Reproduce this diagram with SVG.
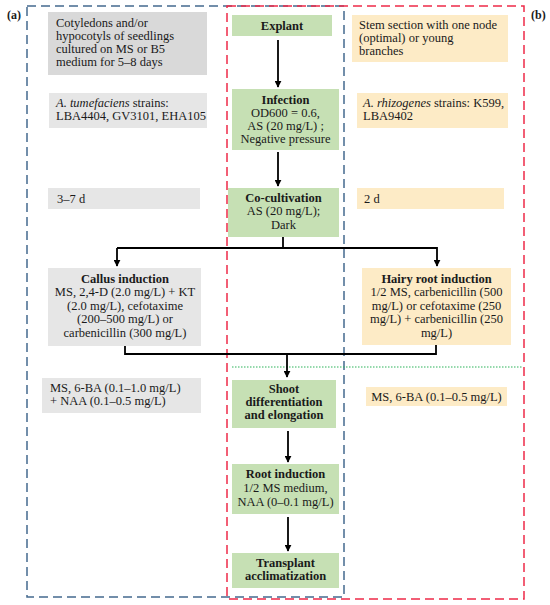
<svg xmlns="http://www.w3.org/2000/svg" width="550" height="605" viewBox="0 0 550 605">
<defs>
<marker id="ah" viewBox="0 0 10 10" refX="9" refY="5" markerWidth="7" markerHeight="7" markerUnits="userSpaceOnUse" orient="auto"><path d="M0,0 L10,5 L0,10 z" fill="#000"/></marker>
<style>
text{font-family:"Liberation Serif","Times New Roman",serif;font-size:12.5px;fill:#1a1a1a}
.b{font-weight:bold}
.c{text-anchor:middle}
.g1{fill:#d9d9d9}
.g{fill:#e6e6e6}
.gr{fill:#c6e0b4}
.y{fill:#fdebc6}
.ln{fill:none;stroke:#000;stroke-width:1.8}
.lab{font-weight:bold;font-size:12px}
</style>
</defs>
<rect x="27" y="6" width="317" height="591" fill="none" stroke="#44698f" stroke-width="1.5" stroke-dasharray="9,5"/>
<rect x="227" y="6" width="297" height="593" fill="none" stroke="#ee2a48" stroke-width="1.5" stroke-dasharray="9,5"/>
<line x1="232" y1="367" x2="523" y2="367" stroke="#2cb45a" stroke-width="1.2" stroke-dasharray="1.5,1.5"/>
<text class="lab" x="7" y="19">(a)</text>
<text class="lab" x="531" y="19">(b)</text>

<g id="n-cotyledons"><rect class="g1" x="48" y="12" width="159" height="63"/>
<text x="56" y="27">Cotyledons and/or</text><text x="56" y="40">hypocotyls of seedlings</text><text x="56" y="53">cultured on MS or B5</text><text x="56" y="66">medium for 5–8 days</text></g>
<g id="n-tumefaciens"><rect class="g" x="49" y="93" width="158" height="35"/>
<text x="56" y="107"><tspan font-style="italic">A. tumefaciens</tspan> strains:</text><text x="56" y="120">LBA4404, GV3101, EHA105</text></g>
<g id="n-37d"><rect class="g" x="48" y="188" width="152" height="21"/><text x="57" y="203">3–7 d</text></g>
<g id="n-callus"><rect class="g" x="48" y="268" width="153" height="78"/>
<text class="c b" x="125" y="283">Callus induction</text><text class="c" x="125" y="296">MS, 2,4-D (2.0 mg/L) + KT</text><text class="c" x="125" y="310">(2.0 mg/L), cefotaxime</text><text class="c" x="125" y="323">(200–500 mg/L) or</text><text class="c" x="125" y="337">carbenicillin (300 mg/L)</text></g>
<g id="n-ms6ba-a"><rect class="g" x="42" y="378" width="159" height="35"/>
<text x="50" y="392">MS, 6-BA (0.1–1.0 mg/L)</text><text x="50" y="405">+ NAA (0.1–0.5 mg/L)</text></g>

<g id="n-explant"><rect class="gr" x="232" y="15" width="100" height="21"/><text class="c b" x="282" y="30">Explant</text></g>
<g id="n-infection"><rect class="gr" x="232" y="89" width="107" height="61"/>
<text class="c b" x="285.5" y="104">Infection</text><text class="c" x="285.5" y="117">OD600 = 0.6,</text><text class="c" x="285.5" y="130">AS (20 mg/L) ;</text><text class="c" x="285.5" y="143">Negative pressure</text></g>
<g id="n-cocult"><rect class="gr" x="228" y="188" width="111" height="49"/>
<text class="c b" x="283.5" y="202">Co-cultivation</text><text class="c" x="283.5" y="215">AS (20 mg/L);</text><text class="c" x="283.5" y="229">Dark</text></g>
<g id="n-shoot"><rect class="gr" x="232" y="380" width="104" height="48"/>
<text class="c b" x="284" y="393">Shoot</text><text class="c b" x="284" y="406">differentiation</text><text class="c b" x="284" y="419">and elongation</text></g>
<g id="n-root"><rect class="gr" x="232" y="464" width="107" height="50"/>
<text class="c b" x="285.5" y="478">Root induction</text><text class="c" x="285.5" y="492">1/2 MS medium,</text><text class="c" x="285.5" y="506">NAA (0–0.1 mg/L)</text></g>
<g id="n-transplant"><rect class="gr" x="232" y="553" width="107" height="35"/>
<text class="c b" x="285.5" y="567">Transplant</text><text class="c b" x="285.5" y="580">acclimatization</text></g>

<g id="n-stem"><rect class="y" x="352" y="15" width="156" height="47"/>
<text x="359" y="29">Stem section with one node</text><text x="359" y="42">(optimal) or young</text><text x="359" y="55">branches</text></g>
<g id="n-rhizogenes"><rect class="y" x="357" y="93" width="151" height="35"/>
<text x="363" y="107"><tspan font-style="italic">A. rhizogenes</tspan> strains: K599,</text><text x="363" y="120">LBA9402</text></g>
<g id="n-2d"><rect class="y" x="357" y="188" width="147" height="21"/><text x="364" y="203">2 d</text></g>
<g id="n-hairy"><rect class="y" x="362" y="268" width="149" height="77"/>
<text class="c b" x="436.5" y="283">Hairy root induction</text><text class="c" x="436.5" y="296">1/2 MS, carbenicillin (500</text><text class="c" x="436.5" y="310">mg/L) or cefotaxime (250</text><text class="c" x="436.5" y="323">mg/L) + carbenicillin (250</text><text class="c" x="436.5" y="337">mg/L)</text></g>
<g id="n-ms6ba-b"><rect class="y" x="366" y="387" width="141" height="19"/><text class="c" x="436.5" y="401">MS, 6-BA (0.1–0.5 mg/L)</text></g>

<g id="connectors">
<line class="ln" x1="278" y1="40" x2="278" y2="87" marker-end="url(#ah)"/>
<line class="ln" x1="278" y1="152" x2="278" y2="186" marker-end="url(#ah)"/>
<polyline class="ln" points="283,237 283,248"/>
<polyline class="ln" points="117,248 437,248 437,266" marker-end="url(#ah)"/>
<line class="ln" x1="117" y1="248" x2="117" y2="266" marker-end="url(#ah)"/>
<polyline class="ln" points="125,346 125,354 436,354 436,345"/>
<line class="ln" x1="287" y1="354" x2="287" y2="377" marker-end="url(#ah)"/>
<line class="ln" x1="288" y1="431" x2="288" y2="462" marker-end="url(#ah)"/>
<line class="ln" x1="288" y1="517" x2="288" y2="551" marker-end="url(#ah)"/>
</g>
</svg>
